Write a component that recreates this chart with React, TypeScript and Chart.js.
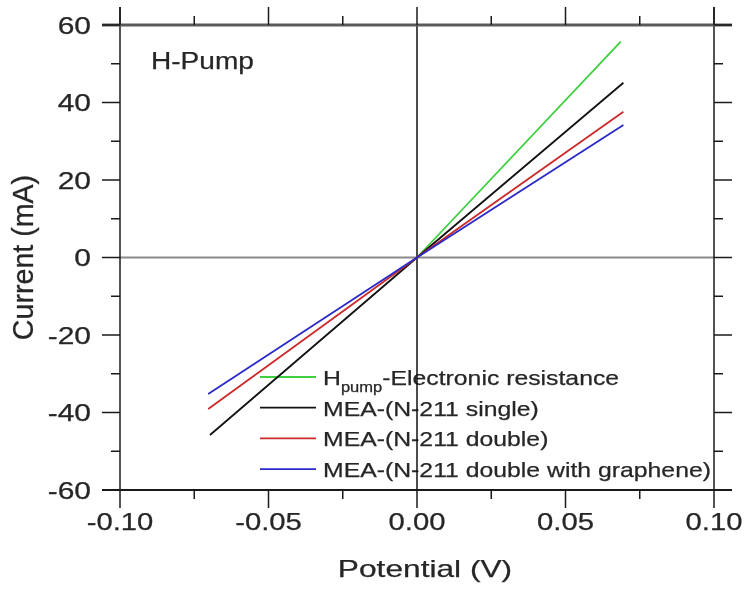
import React, { useEffect, useRef } from "react";
import { Chart, registerables } from "chart.js";

Chart.register(...registerables);

// ---------- data ----------
const seriesNames = [
  "Electronic resistance",
  "MEA-(N-211 single)",
  "MEA-(N-211 double)",
  "MEA-(N-211 double with graphene)",
];
const seriesColors = ["#3fcf3f", "#111111", "#cc2a2a", "#2a2ac8"];

const hpumpX = [0, 0.0686];
const hpumpY = [0, 55.7];
const singleX = [-0.0697, 0, 0.0695];
const singleY = [-45.8, 0, 45.1];
const doubleX = [-0.0703, 0, 0.0695];
const doubleY = [-39.1, 0, 37.6];
const grapheneX = [-0.0703, 0, 0.0695];
const grapheneY = [-35.2, 0, 34.2];

const xTickValues = [-0.1, -0.05, 0, 0.05, 0.1];
const xTickLabels = ["-0.10", "-0.05", "0.00", "0.05", "0.10"];
const yTickValues = [60, 40, 20, 0, -20, -40, -60];
const yTickLabels = ["60", "40", "20", "0", "-20", "-40", "-60"];

const xTitle = "Potential (V)";
const yTitle = "Current (mA)";
const panelLabel = "H-Pump";

// ---------- style ----------
const FONT = "'Liberation Sans', Arial, Helvetica, sans-serif";
const TEXT = "#262626";
const TEXT_STROKE = 0.25;
const MAJ = 18;
const MIN = 9;

function drawText(
  ctx: CanvasRenderingContext2D,
  s: string,
  x: number,
  y: number,
  size: number,
  sx: number,
  align: CanvasTextAlign = "left"
) {
  ctx.save();
  ctx.translate(x, y);
  ctx.scale(sx, 1);
  ctx.font = `${size}px ${FONT}`;
  ctx.fillStyle = TEXT;
  ctx.strokeStyle = TEXT;
  ctx.lineWidth = TEXT_STROKE;
  ctx.lineJoin = "round";
  ctx.textAlign = align;
  ctx.textBaseline = "alphabetic";
  ctx.fillText(s, 0, 0);
  ctx.strokeText(s, 0, 0);
  ctx.restore();
}

function seg(ctx: CanvasRenderingContext2D, x1: number, y1: number, x2: number, y2: number) {
  ctx.beginPath();
  ctx.moveTo(x1, y1);
  ctx.lineTo(x2, y2);
  ctx.stroke();
}

const isMajor = (v: number, list: number[]) => list.some((m) => Math.abs(m - v) < 1e-6);

const backgroundPlugin = {
  id: "bgLegendZero",
  beforeDatasetsDraw(chart: any) {
    const { ctx, chartArea, scales } = chart;
    const { left, right, top, bottom } = chartArea;
    const xs = scales.x;
    const ys = scales.y;
    ctx.save();
    // legend (inside plot)
    const lx1 = 260;
    const lx2 = 316;
    const tx = 323;
    const base0 = 385;
    const step = 30.7;
    const fs = 21;
    const sx = 1.18;
    seriesNames.forEach((name, i) => {
      const by = base0 + i * step;
      ctx.strokeStyle = seriesColors[i];
      ctx.lineWidth = 1.8;
      seg(ctx, lx1, by - 8, lx2, by - 8);
      if (i === 0) {
        ctx.font = `${fs}px ${FONT}`;
        const hw = ctx.measureText("H").width * sx;
        drawText(ctx, "H", tx, by, fs, sx);
        ctx.font = `14px ${FONT}`;
        const pw = ctx.measureText("pump").width * sx;
        drawText(ctx, "pump", tx + hw, by + 7, 14, sx);
        drawText(ctx, "-" + name, tx + hw + pw, by, fs, sx);
      } else {
        drawText(ctx, name, tx, by, fs, sx);
      }
    });
    // zero lines
    const y0 = ys.getPixelForValue(0);
    const x0 = xs.getPixelForValue(0);
    ctx.strokeStyle = "#8a8a8a";
    ctx.lineWidth = 2;
    seg(ctx, left, y0, right, y0);
    ctx.strokeStyle = "#111";
    ctx.lineWidth = 1.5;
    seg(ctx, x0, top, x0, bottom);
    ctx.restore();
  },
  afterDraw(chart: any) {
    const { ctx, chartArea, scales } = chart;
    const { left, right, top, bottom } = chartArea;
    const xs = scales.x;
    const ys = scales.y;
    ctx.save();
    ctx.lineCap = "butt";
    // frame
    ctx.strokeStyle = "#1a1a1a";
    ctx.lineWidth = 1.5;
    seg(ctx, left, top - MAJ, left, bottom + 1);
    seg(ctx, right, top - MAJ, right, bottom + 1);
    ctx.lineWidth = 2;
    seg(ctx, left - MAJ, bottom, right + MAJ, bottom);
    ctx.strokeStyle = "#5a5a5a";
    ctx.lineWidth = 3;
    seg(ctx, left - MAJ, top, right + MAJ, top);
    // ticks
    ctx.strokeStyle = "#1a1a1a";
    ctx.lineWidth = 1.5;
    xs.ticks.forEach((t: any) => {
      const p = xs.getPixelForValue(t.value);
      const len = isMajor(t.value, xTickValues) ? MAJ : MIN;
      seg(ctx, p, bottom, p, bottom + len);
      seg(ctx, p, top, p, top - len);
    });
    ys.ticks.forEach((t: any) => {
      const p = ys.getPixelForValue(t.value);
      const len = isMajor(t.value, yTickValues) ? MAJ : MIN;
      seg(ctx, left - len, p, left, p);
      seg(ctx, right, p, right + len, p);
    });
    // tick labels
    xTickValues.forEach((v, i) => {
      drawText(ctx, xTickLabels[i], xs.getPixelForValue(v), 530, 24, 1.22, "center");
    });
    yTickValues.forEach((v, i) => {
      drawText(ctx, yTickLabels[i], 91, ys.getPixelForValue(v) + 8.5, 24, 1.25, "right");
    });
    // axis titles
    drawText(ctx, xTitle, 425, 577, 24, 1.32, "center");
    ctx.save();
    ctx.translate(33, (top + bottom) / 2);
    ctx.rotate(-Math.PI / 2);
    ctx.scale(1.1, 1.13);
    ctx.font = `26px ${FONT}`;
    ctx.fillStyle = TEXT;
    ctx.strokeStyle = TEXT;
    ctx.lineWidth = TEXT_STROKE;
    ctx.textAlign = "center";
    ctx.textBaseline = "alphabetic";
    ctx.fillText(yTitle, 0, 0);
    ctx.strokeText(yTitle, 0, 0);
    ctx.restore();
    // panel label
    drawText(ctx, panelLabel, 151, 68.5, 23, 1.22, "left");
    ctx.restore();
  },
};

export default function App() {
  const ref = useRef<HTMLCanvasElement | null>(null);
  useEffect(() => {
    document.body.style.margin = "0";
    const xsList = [hpumpX, singleX, doubleX, grapheneX];
    const ysList = [hpumpY, singleY, doubleY, grapheneY];
    const datasets = seriesNames.map((name, i) => ({
      label: name,
      data: xsList[i].map((x, j) => ({ x, y: ysList[i][j] })),
      borderColor: seriesColors[i],
      backgroundColor: seriesColors[i],
      borderWidth: 1.8,
      pointRadius: 0,
      showLine: true,
      fill: false,
    }));
    const chart = new Chart(ref.current as HTMLCanvasElement, {
      type: "scatter",
      data: { datasets: datasets.reverse() as any },
      options: {
        animation: false,
        responsive: true,
        maintainAspectRatio: false,
        devicePixelRatio: 1,
        layout: { padding: { top: 25, right: 31, left: 0, bottom: 0 } },
        plugins: { legend: { display: false }, tooltip: { enabled: false }, title: { display: false } },
        scales: {
          x: {
            type: "linear",
            min: -0.1,
            max: 0.1,
            ticks: { display: false, stepSize: 0.025 },
            grid: { display: false },
            border: { display: false },
            afterFit: (s: any) => {
              s.height = 101;
            },
          },
          y: {
            type: "linear",
            min: -60,
            max: 60,
            ticks: { display: false, stepSize: 10 },
            grid: { display: false },
            border: { display: false },
            afterFit: (s: any) => {
              s.width = 120;
            },
          },
        },
      } as any,
      plugins: [backgroundPlugin],
    });
    return () => chart.destroy();
  }, []);
  return (
    <div style={{ position: "absolute", left: 0, top: 0, width: 745, height: 591, background: "#fff" }}>
      <canvas ref={ref} />
    </div>
  );
}
